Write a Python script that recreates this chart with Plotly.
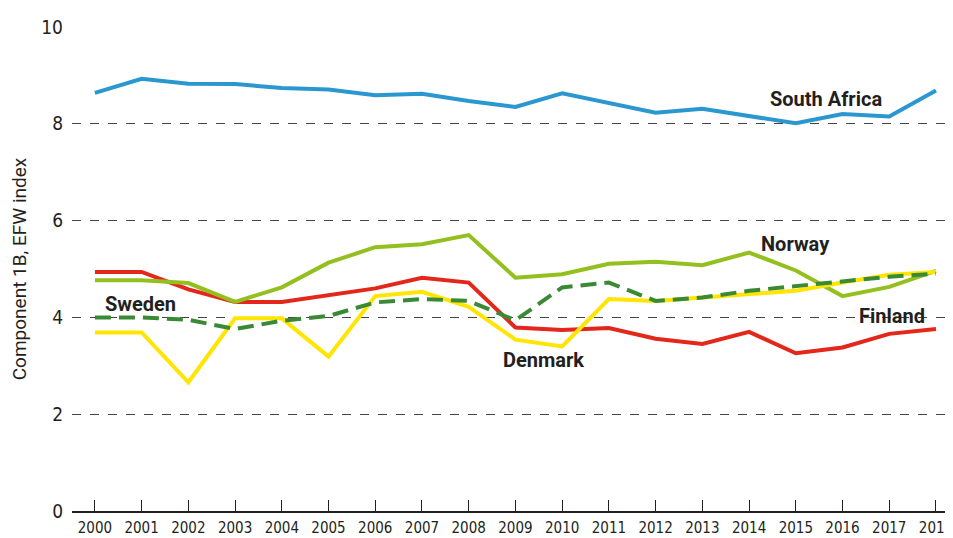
import plotly.graph_objects as go

years = list(range(2000, 2019))
south_africa = [8.64, 8.93, 8.83, 8.82, 8.74, 8.71, 8.59, 8.62, 8.47, 8.35, 8.63, 8.44, 8.23, 8.31, 8.17, 8.01, 8.20, 8.15, 8.69]
finland = [4.94, 4.94, 4.58, 4.32, 4.32, 4.46, 4.60, 4.82, 4.72, 3.79, 3.74, 3.78, 3.56, 3.45, 3.70, 3.26, 3.38, 3.66, 3.76]
norway = [4.77, 4.77, 4.71, 4.32, 4.62, 5.13, 5.45, 5.51, 5.70, 4.82, 4.89, 5.11, 5.15, 5.08, 5.34, 4.97, 4.44, 4.63, 4.96]
denmark = [3.69, 3.69, 2.66, 3.98, 3.98, 3.19, 4.44, 4.53, 4.22, 3.54, 3.40, 4.38, 4.34, 4.41, 4.48, 4.55, 4.72, 4.88, 4.94]
sweden = [4.00, 4.00, 3.95, 3.76, 3.93, 4.03, 4.31, 4.38, 4.34, 3.94, 4.62, 4.72, 4.34, 4.41, 4.55, 4.65, 4.75, 4.84, 4.90]

labels = ["South Africa", "Norway", "Sweden", "Finland", "Denmark"]
label_x = [2015.65, 2014.99, 2000.98, 2017.06, 2009.6]
label_y = [8.52, 5.51, 4.28, 4.03, 3.13]

fig = go.Figure()
series = [
    ("South Africa", south_africa, "#2b97d0", "solid"),
    ("Finland", finland, "#e3271b", "solid"),
    ("Norway", norway, "#93c01f", "solid"),
    ("Denmark", denmark, "#ffe500", "solid"),
    ("Sweden", sweden, "#3a8a35", "16px,8px"),
]
for name, vals, col, dash in series:
    fig.add_trace(go.Scatter(x=years, y=vals, mode="lines", name=name,
                             line=dict(color=col, width=4, dash=dash)))

for t, x, y in zip(labels, label_x, label_y):
    fig.add_annotation(x=x, y=y, text="<b>" + t + "</b>", showarrow=False,
                       font=dict(family="Roboto", size=20, color="#231f20"))

cond = "DejaVu Sans Condensed, Liberation Sans Narrow, Roboto"
fig.update_layout(
    width=953, height=538,
    margin=dict(l=64, r=8, t=17, b=35),
    paper_bgcolor="white", plot_bgcolor="white",
    showlegend=False,
    xaxis=dict(range=[1999.51, 2018.3], tickmode="array", tickvals=years,
               ticktext=[str(y) for y in years], ticklabeloverflow="allow",
               showgrid=False, zeroline=False, showline=True, linecolor="#231f20", linewidth=1.5,
               ticks="inside", ticklen=11, tickwidth=1, tickcolor="#231f20",
               ticklabelstandoff=2,
               tickfont=dict(family=cond, size=15, color="#231f20")),
    yaxis=dict(range=[0, 10], tickvals=[0, 2, 4, 6, 8, 10], showgrid=True,
               gridcolor="#444444", griddash="dash", gridwidth=1, zeroline=False,
               ticks="", ticklabelstandoff=8,
               tickfont=dict(family=cond, size=19, color="#231f20"),
               title=dict(text="Component 1B, EFW index", standoff=10,
                          font=dict(family="Roboto", size=19, color="#231f20"))),
)

fig.write_html("out.html")
